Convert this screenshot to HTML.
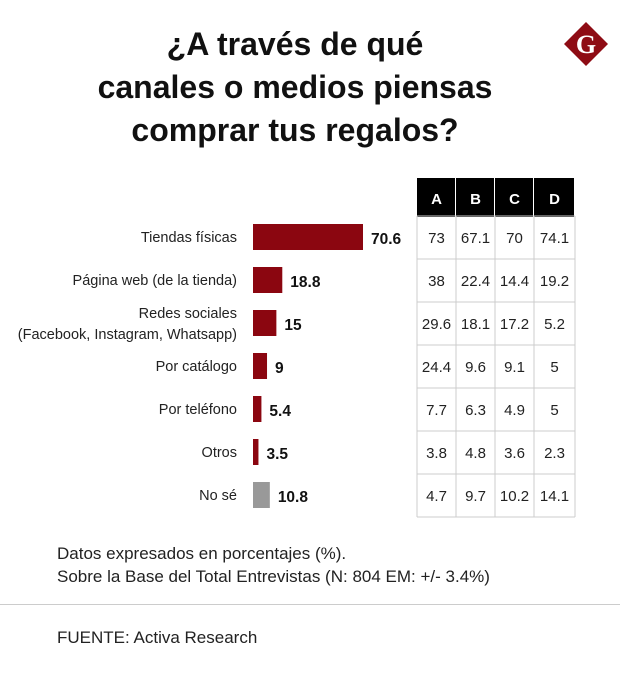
<!DOCTYPE html>
<html><head><meta charset="utf-8"><style>
body{margin:0;width:620px;height:689px;background:#fff;font-family:"Liberation Sans",sans-serif;position:relative;overflow:hidden}
.t{position:absolute;white-space:nowrap}
</style></head><body>
<div class="t" style="left:40px;top:23px;width:510px;text-align:center;font-size:32px;font-weight:bold;line-height:43px;color:#111">¿A través de qué<br>canales o medios piensas<br>comprar tus regalos?</div>
<svg style="position:absolute;left:562px;top:20px" width="48" height="48"><polygon points="24,2 46,24 24,46 2,24" fill="#8e0c14"/><text x="24" y="33" text-anchor="middle" font-family="Liberation Serif,serif" font-weight="bold" font-size="26" fill="#fff">G</text></svg>
<svg id="chart" style="position:absolute;left:0;top:0" width="620" height="530"></svg>
<div class="t" style="left:57px;top:544px;font-size:17px;color:#222">Datos expresados en porcentajes (%).</div>
<div class="t" style="left:57px;top:567px;font-size:17px;color:#222">Sobre la Base del Total Entrevistas (N: 804 EM: +/- 3.4%)</div>
<div style="position:absolute;left:0;top:604px;width:620px;height:1px;background:#ccc"></div>
<div class="t" style="left:57px;top:628px;font-size:17px;color:#222">FUENTE: Activa Research</div>
<script>
const categories=[["Tiendas físicas"],["Página web (de la tienda)"],["Redes sociales","(Facebook, Instagram, Whatsapp)"],["Por catálogo"],["Por teléfono"],["Otros"],["No sé"]];
const totals=[70.6,18.8,15,9,5.4,3.5,10.8];
const labels=["70.6","18.8","15","9","5.4","3.5","10.8"];
const columns=["A","B","C","D"];
const colA=["73","38","29.6","24.4","7.7","3.8","4.7"];
const colB=["67.1","22.4","18.1","9.6","6.3","4.8","9.7"];
const colC=["70","14.4","17.2","9.1","4.9","3.6","10.2"];
const colD=["74.1","19.2","5.2","5","5","2.3","14.1"];
const svg=document.getElementById('chart');const NS="http://www.w3.org/2000/svg";
function mk(t,a,txt){const e=document.createElementNS(NS,t);for(const k in a)e.setAttribute(k,a[k]);if(txt!=null)e.textContent=txt;svg.appendChild(e);return e;}
const x0=253,scale=110/70.6;
const xs=v=>v*scale;
const rowY=i=>237+i*43;
const colX=[417,456,495,534,575];
const tbl=[colA,colB,colC,colD];
for(let c=0;c<4;c++){
 const r=mk('rect',{x:colX[c],y:178,width:colX[c+1]-colX[c]-1,height:39,fill:'#000'});
 
 const t=mk('text',{x:(colX[c]+colX[c+1])/2,y:204,'text-anchor':'middle','font-size':15,'font-weight':'bold',fill:'#fff'},columns[c]);
 
}
for(let i=0;i<=7;i++){const l=mk('line',{x1:417,x2:575,y1:216+i*43,y2:216+i*43,stroke:'#ccc'});}
for(let c=0;c<5;c++){const l=mk('line',{x1:colX[c],x2:colX[c],y1:216,y2:517,stroke:'#ccc'});}
categories.forEach((cat,i)=>{
 const y=rowY(i);
 if(cat.length===1){const t=mk('text',{x:237,y:y+5,'text-anchor':'end','font-size':14.5,fill:'#222'},cat[0]);}
 else{cat.forEach((s,j)=>{const t=mk('text',{x:237,y:y-5+j*21,'text-anchor':'end','font-size':14.5,fill:'#222'},s);});}
 const b=mk('rect',{x:x0,y:y-13,width:xs(totals[i]),height:26,fill:i===6?'#999':'#8b0610'});
 
 const v=mk('text',{x:x0+xs(totals[i])+8,y:y+7,'font-size':15.5,'font-weight':'bold',fill:'#111'},labels[i]);
 
 for(let c=0;c<4;c++){const t=mk('text',{x:(colX[c]+colX[c+1])/2,y:y+6,'text-anchor':'middle','font-size':15,fill:'#222'},tbl[c][i]);}
});
</script>
</body></html>
